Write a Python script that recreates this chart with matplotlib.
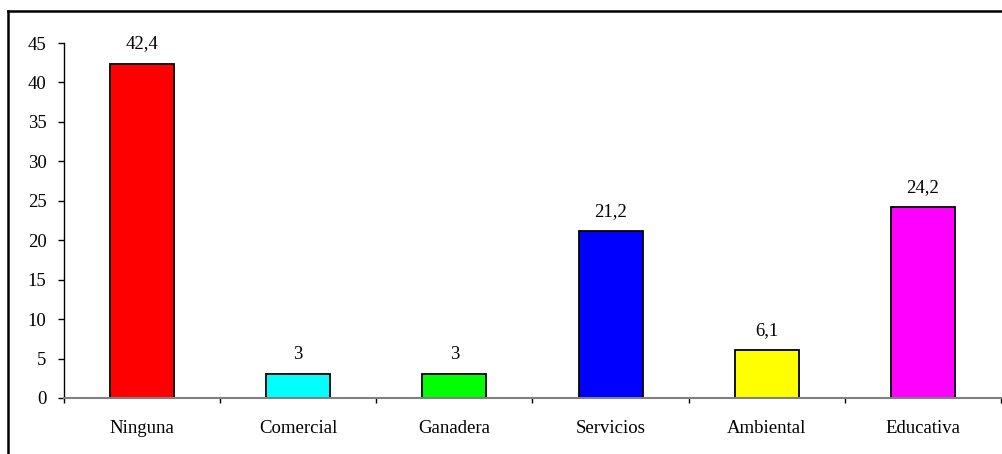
import matplotlib.pyplot as plt
import numpy as np
from matplotlib.lines import Line2D

categories = ['Ninguna', 'Comercial', 'Ganadera', 'Servicios', 'Ambiental', 'Educativa']
values = [42.4, 3, 3, 21.2, 6.1, 24.2]
labels = ['42,4', '3', '3', '21,2', '6,1', '24,2']
colors = ['#ff0000', '#00ffff', '#00ff00', '#0000ff', '#ffff00', '#ff00ff']

plt.rcParams['font.family'] = ['Liberation Serif', 'DejaVu Serif']

W, H = 1003, 454
fig = plt.figure(figsize=(W / 100, H / 100), dpi=100)
ax = fig.add_axes([64 / W, 1 - 398 / H, (1001 - 64) / W, (398 - 43) / H])

x = np.arange(len(categories))
bars = ax.bar(x, values, width=0.41, color=colors, edgecolor='black', linewidth=1.3, zorder=3)

for xi, v, lab in zip(x, values, labels):
    ax.annotate(lab, (xi, v), xytext=(0, 8), textcoords='offset points',
                ha='center', va='bottom', fontsize=13.5)

ax.set_xlim(-0.5, len(categories) - 0.5)
ax.set_ylim(0, 45)
ax.set_yticks(np.arange(0, 46, 5))
ax.set_xticks(x)
ax.set_xticklabels(categories)
ax.set_xticks(np.arange(-0.5, len(categories), 1), minor=True)

ax.tick_params(axis='y', length=4.5, width=1, pad=8, labelsize=13.5, color='black')
ax.tick_params(axis='x', which='major', length=0, pad=16, labelsize=13.5)
ax.tick_params(axis='x', which='minor', length=3.5, width=1, color='black')

for s in ['top', 'right']:
    ax.spines[s].set_visible(False)
ax.spines['left'].set_color('black')
ax.spines['left'].set_linewidth(1)
ax.spines['bottom'].set_color('#808080')
ax.spines['bottom'].set_linewidth(1.5)
ax.spines['bottom'].set_zorder(4)

# outer frame (left and top edges visible)
fig.add_artist(Line2D([8 / W, 8 / W], [0, 1 - 11 / H], transform=fig.transFigure, color='black', lw=1.8))
fig.add_artist(Line2D([8 / W, 1], [1 - 11 / H, 1 - 11 / H], transform=fig.transFigure, color='black', lw=1.8))

fig.savefig('out.png', dpi=100)
